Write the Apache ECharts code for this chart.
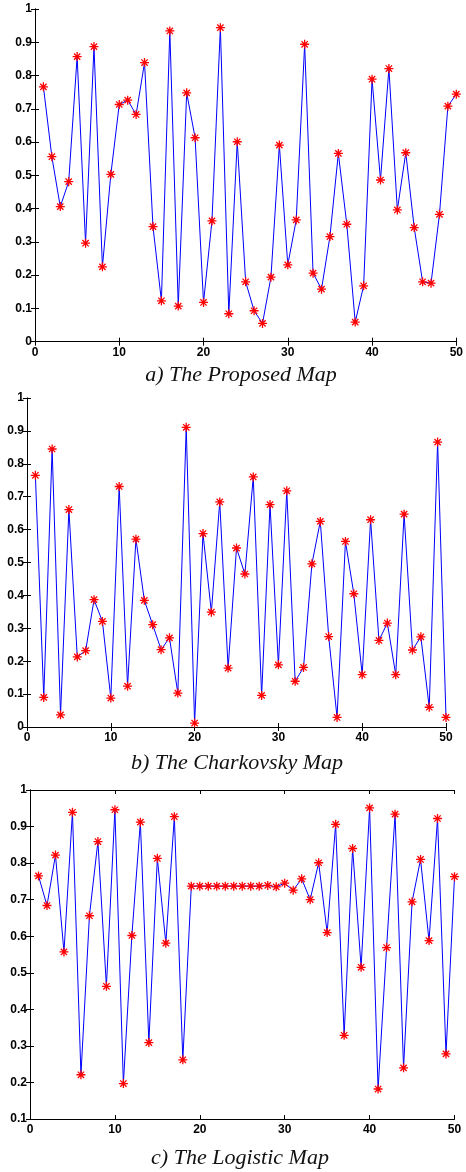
<!DOCTYPE html>
<html>
<head>
<meta charset="utf-8">
<script src="https://cdn.jsdelivr.net/npm/echarts@6/dist/echarts.min.js"></script>
<style>
html,body{margin:0;padding:0;background:#fff;}
#chart{width:466px;height:1172px;}
</style>
</head>
<body>
<div id="chart"></div>
<script>
// ---- data ----
const proposedMap = [0.766,0.556,0.406,0.481,0.857,0.296,0.887,0.225,0.503,0.713,
  0.726,0.683,0.839,0.346,0.123,0.934,0.107,0.748,0.613,0.118,
  0.363,0.944,0.084,0.601,0.180,0.093,0.055,0.194,0.591,0.231,
  0.366,0.894,0.206,0.158,0.316,0.566,0.353,0.059,0.168,0.789,
  0.486,0.821,0.396,0.568,0.343,0.180,0.176,0.383,0.708,0.744];
const charkovskyMap = [0.765,0.090,0.845,0.037,0.661,0.213,0.232,0.387,0.321,0.088,
  0.731,0.124,0.571,0.385,0.311,0.235,0.271,0.103,0.911,0.012,
  0.588,0.349,0.684,0.179,0.544,0.465,0.760,0.096,0.676,0.189,
  0.718,0.139,0.181,0.496,0.625,0.275,0.029,0.564,0.405,0.159,
  0.630,0.263,0.316,0.159,0.647,0.234,0.274,0.060,0.866,0.029];
const logisticMap = [0.765,0.684,0.822,0.557,0.939,0.221,0.656,0.859,0.463,0.946,
  0.197,0.602,0.912,0.309,0.813,0.581,0.927,0.262,0.737,0.737,
  0.737,0.737,0.737,0.737,0.737,0.737,0.737,0.739,0.735,0.745,
  0.726,0.757,0.700,0.801,0.610,0.906,0.329,0.840,0.515,0.951,
  0.182,0.569,0.934,0.240,0.694,0.810,0.588,0.922,0.278,0.763];
const captions = ["a) The Proposed Map", "b) The Charkovsky Map", "c) The Logistic Map"];
const yRanges = [[0, 1], [0, 1], [0.1, 1]];
const xRange = [0, 50];

// ---- layout ----
const grids = [
  {left: 35, top: 9, width: 423.5, height: 332.7},
  {left: 27, top: 398, width: 419, height: 329},
  {left: 30, top: 790, width: 424.5, height: 329}
];
const captionPos = [[241, 375], [237, 763], [240, 1158]];
const seriesData = [proposedMap, charkovskyMap, logisticMap];

const labelFont = {color: '#000', fontFamily: '"Liberation Sans", Arial, sans-serif', fontWeight: 700, fontSize: 12};
const axisLine = {show: true, lineStyle: {color: '#000', width: 1}};
const tick = {show: true, inside: true, length: 4, lineStyle: {color: '#000', width: 1}};

const xAxes = [], yAxes = [], series = [], graphics = [];
grids.forEach((g, i) => {
  xAxes.push({type: 'value', gridIndex: i, min: xRange[0], max: xRange[1], interval: 10, position: 'bottom',
    axisLine: axisLine, axisTick: tick, splitLine: {show: false},
    axisLabel: Object.assign({margin: 5}, labelFont)});
  xAxes.push({type: 'value', gridIndex: i, min: xRange[0], max: xRange[1], interval: 10, position: 'top',
    axisLine: axisLine, axisTick: tick, splitLine: {show: false}, axisLabel: {show: false}});
  yAxes.push({type: 'value', gridIndex: i, min: yRanges[i][0], max: yRanges[i][1], interval: 0.1, position: 'left',
    axisLine: axisLine, axisTick: tick, splitLine: {show: false},
    axisLabel: Object.assign({margin: 3, formatter: v => (Math.round(v * 10) / 10).toString()}, labelFont)});
  yAxes.push({type: 'value', gridIndex: i, min: yRanges[i][0], max: yRanges[i][1], interval: 0.1, position: 'right',
    axisLine: axisLine, axisTick: tick, splitLine: {show: false}, axisLabel: {show: false}});
  series.push({
    type: 'line', xAxisIndex: i * 2, yAxisIndex: i * 2,
    data: seriesData[i].map((v, k) => [k + 1, v]),
    lineStyle: {color: '#0000ff', width: 1},
    symbol: 'path://M5,0L5,10M0,5L10,5M1.5,1.5L8.5,8.5M1.5,8.5L8.5,1.5',
    symbolSize: 9,
    showAllSymbol: true,
    itemStyle: {color: 'rgba(0,0,0,0)', borderColor: '#ff0000', borderWidth: 1.3},
    animation: false, silent: true
  });
  graphics.push({type: 'text', x: captionPos[i][0], y: captionPos[i][1],
    style: {text: captions[i], textAlign: 'center', textVerticalAlign: 'middle',
      font: 'italic 22px "Liberation Serif", "Times New Roman", serif', fill: '#111'}});
});

const chart = echarts.init(document.getElementById('chart'), null, {renderer: 'canvas'});
chart.setOption({
  animation: false,
  backgroundColor: '#fff',
  grid: grids.map(g => Object.assign({containLabel: false}, g)),
  xAxis: xAxes,
  yAxis: yAxes,
  series: series,
  graphic: graphics
});
</script>
</body>
</html>
